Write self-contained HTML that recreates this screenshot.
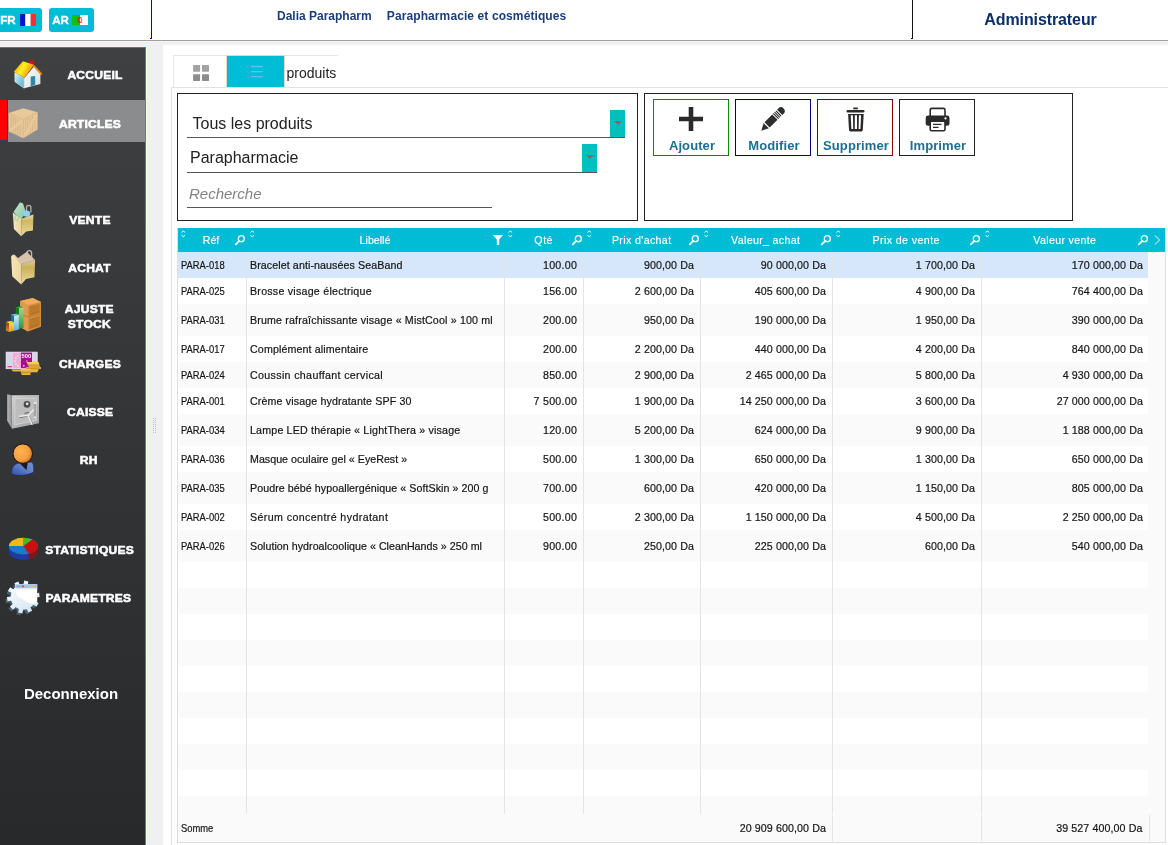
<!DOCTYPE html>
<html lang="fr">
<head>
<meta charset="utf-8">
<title>Dalia Parapharm - Articles</title>
<style>
*{box-sizing:border-box;margin:0;padding:0}
html,body{width:1168px;height:845px;overflow:hidden}
body{background:#f0f0f0;font-family:"Liberation Sans",sans-serif;position:relative;color:#222}
svg{position:absolute;display:block;overflow:visible}
#header{position:absolute;left:0;top:0;width:1168px;height:40px;background:#fff;overflow:hidden}
#hline{position:absolute;left:0;top:40px;width:1168px;height:1px;background:#a0a0a0;box-shadow:0 1px 0 #f5f5f5}
.lang{position:absolute;top:8px;height:24px;background:#00bcd4;border-radius:3px;color:#fff;font-weight:bold;font-size:12px;line-height:24px}
.lang .lt{position:absolute;top:0;font-size:11.5px;-webkit-text-stroke:.4px #fff}
.vline{position:absolute;top:0;width:1px;height:39px}
.hook{position:absolute;top:38px;width:1px;height:1px}
.htitle{position:absolute;top:8px;font-size:12px;font-weight:bold;color:#1c3f7a;line-height:16px;white-space:nowrap}
#admin{position:absolute;left:913px;top:10px;width:255px;text-align:center;font-size:16px;font-weight:bold;color:#0b2f6b;line-height:20px;letter-spacing:-.1px}
#side{position:absolute;left:0;top:47px;width:146px;height:798px;background:linear-gradient(#3f4042,#28292b);border-top:1px solid #00a0a0;border-right:1px solid #00a8a8;box-shadow:1px -1px 0 #fdf4f2}
#grip{position:absolute;left:153px;top:418px;width:3px;height:15px;background:radial-gradient(circle at .5px .5px,#bdbdbd .55px,transparent .6px) 0 0/2px 2px}
#sel{position:absolute;left:8px;top:52px;width:137px;height:42px;background:#8b8c8e}
#selred{position:absolute;left:0;top:52px;width:7px;height:40px;background:#f00}
.mi{position:absolute;width:145px;color:#fff;font-weight:bold;font-size:10.5px;letter-spacing:.2px;text-align:center;line-height:15px;-webkit-text-stroke:.5px #fff;white-space:nowrap}
.mi span{display:inline-block;transform:scaleX(1.15);text-align:center}
#deco{position:absolute;left:0;top:636px;width:142px;text-align:center;color:#fff;font-weight:bold;font-size:15px;line-height:20px}
#main{position:absolute;left:163px;top:45px;width:1005px;height:800px;background:#fff}
#panel{position:absolute;left:171px;top:87px;width:997px;height:758px;border-top:1px solid #e2e2e2;border-left:1px solid #e2e2e2}
#tabs{position:absolute;left:173px;top:55px;width:165px;height:32px;background:#fff;box-shadow:inset 1px 1px 0 #e6e6e6}
#tab1{position:absolute;left:0;top:0;width:53px;height:32px}
#tab2{position:absolute;left:53px;top:0;width:59px;height:32px;background:#00bcd4;border:1px solid #e6d4d0;border-bottom:0}
#tabt{position:absolute;left:113.5px;top:2px;width:51px;overflow:hidden;height:31px;line-height:33px;font-size:14px;color:#222;white-space:nowrap}
#fbox{position:absolute;left:177px;top:93px;width:461px;height:128px;border:1px solid #222;background:#fff}
#bbox{position:absolute;left:644px;top:93px;width:429px;height:128px;border:1px solid #222;background:#fff}
.sel{position:absolute;height:27px;border-bottom:1px solid #555;font-size:16px;color:#222;line-height:26px}
.sel span{position:absolute;top:0;white-space:nowrap}
.sel i{position:absolute;right:0;top:-1px;bottom:0;width:15px;background:#00bfbf}
.sel i:after{content:"";position:absolute;left:3.5px;top:11px;border:4px solid transparent;border-top:4.5px solid #7a6c6c;border-bottom:0}
.srch{color:#838383;font-style:italic;font-size:15px}
.btn{position:absolute;top:5px;width:76px;height:57px;border:1px solid #000;background:#fff;text-align:center}
.btn span{position:absolute;left:1px;width:74px;top:38px;letter-spacing:.1px;font-size:13px;font-weight:bold;color:#1d6f8f;line-height:16px;white-space:nowrap}
#tbl{position:absolute;left:178px;top:228px;width:987px;height:615px;background:#fafafa;box-shadow:-1px 0 0 #e0e0e0,1px 0 0 #e0e0e0}
#th{position:absolute;left:0;top:0;width:987px;height:24px;background:#00bcd4;color:#fff}
.ht{position:absolute;top:0;width:120px;text-align:center;font-size:10.67px;line-height:25px;white-space:nowrap;-webkit-text-stroke:.15px #fff}
.hi{position:absolute;top:7px;width:10px;height:10px}
.sort{position:absolute;top:1px;width:5px;height:9px}
.r{position:absolute;left:0;width:970px;background:#fff;font-size:10.67px;color:#161616;-webkit-text-stroke:.2px #161616}
.ra{background:#fafafa}
.rs{background:#d6e6fb}
.c{position:absolute;top:0;height:100%;white-space:nowrap;overflow:hidden}
.l{padding-left:3px}
.n{text-align:right;padding-right:7px;letter-spacing:.1px}
.q{letter-spacing:.3px;padding-right:6.7px}
.rf span{display:inline-block;transform:scaleX(.88);transform-origin:0 50%}
.lb{letter-spacing:.08px}
.cl{position:absolute;top:24px;width:1px;height:562px;background:#e4e4e4}
#sb{position:absolute;left:970px;top:24px;width:17px;height:591px;background:#fafafa}
#tf{position:absolute;left:-1px;top:586px;width:988px;height:29px;background:#fafafa;border-left:1px solid #ddd;border-bottom:1px solid #ddd;font-size:10.67px;line-height:29px;color:#161616;-webkit-text-stroke:.2px #161616}
.fl{position:absolute;top:1px;width:1px;height:26px;background:#e4e4e4}
</style>
</head>
<body>
<header id="header">
<div class="lang" style="left:-4px;width:46px"><span class="lt" style="left:4.2px">FR</span><svg style="left:24px;top:6px" width="16" height="12" viewBox="0 0 16 12"><rect width="5.3" height="12" fill="#0a14c8"/><rect x="5.3" width="5.4" height="12" fill="#fff"/><rect x="10.7" width="5.3" height="12" fill="#ff2d2d"/></svg></div>
<div class="lang" style="left:49px;width:45px"><span class="lt" style="left:3.2px">AR</span><svg style="left:23px;top:7px" width="16" height="10" viewBox="0 0 16 10"><rect width="8" height="10" fill="#12c012"/><rect x="8" width="8" height="10" fill="#fff"/><circle cx="8.2" cy="5" r="2.3" fill="none" stroke="#e01020" stroke-width="1.1"/><rect x="9.4" y="3" width="2" height="4" fill="#fff"/><circle cx="9.6" cy="5" r=".8" fill="#e01020"/></svg></div>
<div class="vline" style="left:151px;background:#0808c0"></div><div class="hook" style="left:150px;background:#0808c0"></div>
<div class="htitle" style="left:277px">Dalia Parapharm</div>
<div class="htitle" style="left:386.8px;letter-spacing:.1px">Parapharmacie et cosmétiques</div>
<div class="vline" style="left:912px;background:#111"></div><div class="hook" style="left:911px;background:#111"></div>
<div id="admin">Administrateur</div>
</header>
<div id="hline"></div>
<nav id="side">
<div id="sel"></div><div id="selred"></div>
<div class="mi" style="top:19.5px;left:22.6px"><span>ACCUEIL</span></div>
<svg style="left:12px;top:11px" width="32" height="32" viewBox="12 59 32 32">
<defs><linearGradient id="gh1" gradientUnits="userSpaceOnUse" x1="16" y1="65" x2="30" y2="73"><stop offset="0" stop-color="#ffa60c"/><stop offset=".45" stop-color="#fff21c"/><stop offset="1" stop-color="#ff920c"/></linearGradient>
<linearGradient id="gh2" x1="0" y1="0" x2="1" y2="1"><stop offset="0" stop-color="#d8f0f6"/><stop offset="1" stop-color="#48aacc"/></linearGradient>
<linearGradient id="gh3" x1="0" y1="0" x2="1" y2="1"><stop offset="0" stop-color="#ffffff"/><stop offset="1" stop-color="#d4dde0"/></linearGradient></defs>
<rect x="29.2" y="60.5" width="4.9" height="4.5" rx="1" fill="#de0a0a"/>
<polygon points="14.9,72.6 24.2,78.2 24.2,88.2 14.9,81.7" fill="url(#gh2)" stroke="#e8f8fc" stroke-width=".6"/>
<polygon points="24.2,78.2 33.9,66.6 40.4,74 40.4,84 24.2,88.2" fill="url(#gh3)"/>
<polygon points="30.7,76.4 35.2,76 35.2,85 30.7,86.2" fill="#2a88aa"/>
<polygon points="22.9,61.3 33.9,64.7 24.5,77.7 13.8,71.7" fill="url(#gh1)"/>
<polygon points="33.9,64.7 42.3,73.8 41,75.2 33.2,66.8" fill="#f4900e"/>
</svg>
<div class="mi" style="top:68.8px;left:18px"><span>ARTICLES</span></div>
<svg style="left:8px;top:59px" width="31" height="32" viewBox="8 107 31 32">
<polygon points="23.2,108.2 37.6,112.2 23.2,119.6 8.7,113.1" fill="#e9c99a"/>
<polygon points="8.7,113.1 23.2,119.6 23.2,138.2 8.9,131.6" fill="#e6c696"/>
<polygon points="23.2,119.6 37.6,112.2 37.6,129.5 23.2,138.2" fill="#e7c797"/>
<path d="M11.2 115.5v16M13.4 116.5v16.5M15.6 117.5v16.5M17.8 118.5v16.8M20 119.5v16.8M25.6 119.2v16.8M27.9 118v16.5M30.2 117v16M32.5 115.8v15.5M34.8 114.6v15" stroke="#d7b686" stroke-width=".9" fill="none"/>
<path d="M10.2 130.5 L21.8 120.8 M25.2 135.6 L36 114.6" stroke="#e9c99a" stroke-width="2.3" fill="none"/>
<path d="M8.7 113.1 L23.2 119.6 L37.6 112.2 M23.2 119.6 V138" stroke="#dcbc8c" stroke-width=".8" fill="none"/>
</svg>
<div class="mi" style="top:164.5px;left:17.5px"><span>VENTE</span></div>
<svg style="left:11px;top:153px" width="25" height="37" viewBox="11 201 25 37">
<defs><linearGradient id="gb1" x1="0" y1="0" x2="1" y2="0"><stop offset="0" stop-color="#f6e6b8"/><stop offset="1" stop-color="#e8d49c"/></linearGradient>
<linearGradient id="gb2" x1="0" y1="0" x2="0" y2="1"><stop offset="0" stop-color="#eadcae"/><stop offset=".3" stop-color="#d0b662"/><stop offset="1" stop-color="#eedc98"/></linearGradient>
<linearGradient id="gb3" x1="0" y1="0" x2="1" y2="1"><stop offset="0" stop-color="#c8e8d0"/><stop offset="1" stop-color="#80c8a0"/></linearGradient></defs>
<path d="M26.5 211 v-3.5 a2.2 2.2 0 0 1 4.4 0 v5" stroke="#b8b0a8" stroke-width="1.3" fill="none"/>
<polygon points="13.5,212 20,202.3 23,203.6 26,212.5 21,219.5" fill="url(#gb3)"/>
<ellipse cx="26.6" cy="213.6" rx="3.6" ry="3.2" fill="#8cd0f2"/>
<polygon points="12.8,212.6 21.2,218.8 21.2,236.2 13.9,229" fill="url(#gb1)"/>
<polygon points="21.2,218.8 33.4,214.6 32.9,230.4 26.2,231.6 21.2,236.2" fill="url(#gb2)"/>
<path d="M15 214.5 v3 a1.6 1.6 0 0 0 3.2 1.8 v-2.6" stroke="#9ccfae" stroke-width="1.1" fill="none"/>
</svg>
<div class="mi" style="top:212.5px;left:17px"><span>ACHAT</span></div>
<svg style="left:10px;top:201px" width="27" height="37" viewBox="10 249 27 37">
<defs><linearGradient id="gc1" x1="0" y1="0" x2="1" y2="0"><stop offset="0" stop-color="#f8e6b4"/><stop offset="1" stop-color="#ead6a0"/></linearGradient>
<linearGradient id="gc2" x1="0" y1="0" x2="0" y2="1"><stop offset="0" stop-color="#dccca4"/><stop offset=".3" stop-color="#cbb05c"/><stop offset="1" stop-color="#eedc98"/></linearGradient></defs>
<path d="M27 257 v-4 a2.3 2.3 0 0 1 4.6 0 v5" stroke="#bcb8b0" stroke-width="1.3" fill="none"/>
<polygon points="12.2,255.2 14.5,254.4 18,258 26.8,251.8 35.1,260 21.2,264.2" fill="#d8c2aa"/>
<polygon points="11.1,256.6 13,254.6 21.2,264 21.2,284.6 12.2,276.2" fill="url(#gc1)"/>
<polygon points="21.2,264 35.1,260 34.5,277.3 26,279 21.2,284.6" fill="url(#gc2)"/>
</svg>
<div class="mi" style="top:253.5px;left:17px"><span>AJUSTE<br>STOCK</span></div>
<svg style="left:5px;top:249px" width="37" height="36" viewBox="5 297 37 36">
<defs><linearGradient id="gs1" x1="0" y1="0" x2="0" y2="1"><stop offset="0" stop-color="#a6d8a0"/><stop offset="1" stop-color="#2f962f"/></linearGradient>
<linearGradient id="gs2" x1="0" y1="0" x2="0" y2="1"><stop offset="0" stop-color="#d4eef4"/><stop offset="1" stop-color="#5cb4d8"/></linearGradient>
<linearGradient id="gs3" x1="0" y1="0" x2="0" y2="1"><stop offset="0" stop-color="#f2e24a"/><stop offset="1" stop-color="#e0a020"/></linearGradient>
<linearGradient id="gs4" x1="0" y1="0" x2="0" y2="1"><stop offset="0" stop-color="#8a3c10"/><stop offset="1" stop-color="#e88a20"/></linearGradient></defs>
<polygon points="20.2,301 32.7,297.9 41,302 41,326.8 28,331.6 22,327.9 20.2,314" fill="#d48c3c"/>
<polygon points="20.2,301 32.7,297.9 41,302 28,305.2" fill="#eeac5c"/>
<polygon points="20.2,301 28,305.2 28,331.6 22,327.9 20.2,314" fill="#e29a4a"/>
<polygon points="29.5,306.8 39.6,304 39.6,312.8 29.5,315.8" fill="#b47428"/>
<polygon points="29.5,319.2 39.6,316.2 39.6,325.4 29.5,329.2" fill="#b47428"/>
<path d="M20.2 314 L28 317 L41 313.8" stroke="#c07c30" stroke-width=".9" fill="none"/>
<path d="M29.5 308.8 l10.1 -2.8 M29.5 310.8 l10.1 -2.8M29.5 312.8 l10.1 -2.8M29.5 321.4 l10.1 -3M29.5 323.4 l10.1 -3M29.5 325.4 l10.1 -3" stroke="#cc8c3c" stroke-width=".5" fill="none"/>
<polygon points="15.8,307.2 19,308 19,329 15.8,327.6" fill="#17781a"/>
<polygon points="19,308 23.6,307.2 23.6,327.8 19,329" fill="url(#gs1)"/>
<polygon points="15.8,307.2 20.2,306.2 23.6,307.2 19,308.2" fill="#22b422"/>
<polygon points="10.9,314.8 14,315.8 14,330.8 10.9,329.2" fill="#1c6c94"/>
<polygon points="14,315.8 18.9,314.8 18.9,329.6 14,330.8" fill="url(#gs2)"/>
<polygon points="10.9,314.8 15.4,313.8 18.9,314.8 14,315.9" fill="#6ccaf0"/>
<polygon points="5.9,322 9,323.2 9,332 5.9,330.4" fill="url(#gs4)"/>
<polygon points="9,323.2 14,322 14,330.8 9,332" fill="url(#gs3)"/>
<polygon points="5.9,322 10.6,321 14,322 9,323.3" fill="#f4e624"/>
</svg>
<div class="mi" style="top:308.5px;left:17px"><span>CHARGES</span></div>
<svg style="left:5px;top:303px" width="37" height="25" viewBox="5 351 37 25">
<defs><linearGradient id="gm1" x1="0" y1="0" x2="0" y2="1"><stop offset="0" stop-color="#f6d478"/><stop offset=".5" stop-color="#dca030"/><stop offset="1" stop-color="#eebc50"/></linearGradient></defs>
<rect x="6.1" y="352.1" width="31.1" height="16.6" fill="#ded4ea"/>
<rect x="13" y="352.1" width="8" height="16.6" fill="#f1acd5"/>
<rect x="21" y="352.1" width="11" height="16.6" fill="#a2108a"/>
<rect x="6.1" y="352.1" width="31.1" height="16.6" fill="none" stroke="#f4eef8" stroke-width=".7"/>
<text x="21.6" y="358.2" font-family="Liberation Sans, sans-serif" font-weight="bold" font-size="6.2" fill="#fff" textLength="9.6" lengthAdjust="spacingAndGlyphs">500</text>
<g fill="#fbe6f2"><rect x="17.2" y="355.4" width="1.4" height="1.4"/><rect x="15.2" y="357.4" width="1.4" height="1.4"/><rect x="14.3" y="360.4" width="1.4" height="1.4"/><rect x="15.2" y="363.3" width="1.4" height="1.4"/><rect x="17.2" y="365.3" width="1.4" height="1.4"/><rect x="26.2" y="360.4" width="1.4" height="1.4" fill="#e8b4dc"/><rect x="23" y="365" width="1.6" height="1.6" fill="#e8b4dc"/></g>
<rect x="7.5" y="366" width="4.5" height="1.3" fill="#c850a8"/>
<path d="M33.5 361.3h2" stroke="#e8a8d8" stroke-width="1"/>
<path d="M26.6 362 h12 l1.4 5 h1 v2 h-2.2 l-1.4 3.3 h-10 l1.4 -3.6 h-4 l1.6 -1.6 h2.6z" fill="url(#gm1)"/>
<path d="M11.2 369.5 h10.5 l.5 1.9 h-9.2z M20.8 368.8 h9.5 l.8 2.6 l-.8 3.6 h-8.6 l-.8 -2.8z" fill="url(#gm1)"/>
<path d="M27.5 365.2h11.5M26.5 368.6h13M21.5 372.6h9" stroke="#c48820" stroke-width=".7" fill="none"/>
</svg>
<div class="mi" style="top:356.5px;left:17.5px"><span>CAISSE</span></div>
<svg style="left:6px;top:345px" width="35" height="37" viewBox="6 393 35 37">
<defs><linearGradient id="gf1" x1="0" y1="0" x2="1" y2="1"><stop offset="0" stop-color="#d0d0d0"/><stop offset="1" stop-color="#9c9c9c"/></linearGradient>
<linearGradient id="gf2" x1="0" y1="0" x2="1" y2="0"><stop offset="0" stop-color="#b8b8b8"/><stop offset="1" stop-color="#8e8e8e"/></linearGradient></defs>
<polygon points="7.2,394.2 11.9,395.2 11.9,428.8 7.2,420.7" fill="url(#gf2)"/>
<polygon points="11.9,395.2 39,395 39,423.3 11.9,428.8" fill="url(#gf1)"/>
<polygon points="14.8,398.6 36.2,398.2 36.2,420.6 14.8,424.6" fill="#bdbdbd" stroke="#d8d8d8" stroke-width=".8"/>
<path d="M35 402.5 v16.5" stroke="#8a8a8a" stroke-width="1"/>
<rect x="34" y="402" width="2.2" height="2" fill="#e4e4e4"/><rect x="34" y="416.5" width="2.2" height="2" fill="#e4e4e4"/>
<circle cx="27" cy="404.4" r="3.3" fill="#4a4a4a"/><circle cx="27.2" cy="403.8" r="1.4" fill="#e8e8e8"/>
<path d="M24.5 413.8 a3 2.2 0 0 1 5 -.5" stroke="#777" stroke-width="1.3" fill="none"/>
<path d="M19.8 417.2 L28 416.3 M28.8 416.5 L32.8 425" stroke="#4c4c4c" stroke-width="1.1" fill="none"/>
<path d="M19.5 416.3 L28 415.5 L33.5 409.7 M28 415.5 L32 424.3" stroke="#ececec" stroke-width="1.5" fill="none" stroke-linecap="round"/>
</svg>
<div class="mi" style="top:404.5px;left:16.5px"><span>RH</span></div>
<svg style="left:10px;top:395px" width="26" height="34" viewBox="10 443 26 34">
<defs><radialGradient id="gu1" cx=".38" cy=".4" r=".72"><stop offset="0" stop-color="#ffb24e"/><stop offset=".6" stop-color="#f6a040"/><stop offset="1" stop-color="#c45e14"/></radialGradient>
<linearGradient id="gu2" x1="0" y1="1" x2="1" y2="0"><stop offset="0" stop-color="#2c4cac"/><stop offset=".5" stop-color="#5c7cc8"/><stop offset="1" stop-color="#7894d4"/></linearGradient></defs>
<path d="M11.4 473.8 C11.2 468 13.6 464.4 18 463.3 L31.2 462.1 C33.4 462.8 33.9 466 33.8 472 C28 475.8 15 476.4 11.4 473.8Z" fill="url(#gu2)" stroke="#14204a" stroke-width=".6"/>
<polygon points="19.7,463.3 27.8,462.8 26.5,470.3" fill="#1c1c20"/>
<circle cx="22.8" cy="453.6" r="9.7" fill="url(#gu1)" stroke="#16100a" stroke-width=".9"/>
</svg>
<div class="mi" style="top:494.5px;left:17px"><span>STATISTIQUES</span></div>
<svg style="left:8px;top:489px" width="31" height="25" viewBox="8 537 31 25">
<path d="M8.9 546.1 v5.5 a14.5 8.4 0 0 0 29 0 v-5.5z" fill="#1c3ca8"/>
<path d="M28.5 554 L29 559.2 A14.5 8.4 0 0 0 37.9 551.6 v-5.5z" fill="#8e1010"/>
<ellipse cx="23.4" cy="546.1" rx="14.5" ry="8.4" fill="#2078c8"/>
<path d="M23.4 546.1 L8.9 546.1 A14.5 8.4 0 0 1 23.4 537.7z" fill="#f8b808"/>
<path d="M23.4 546.1 L23.4 537.7 A14.5 8.4 0 0 1 32.5 539.6z" fill="#48b828"/>
<path d="M23.4 546.1 L32.5 539.6 A14.5 8.4 0 0 1 29 553.9z" fill="#c81010"/>
</svg>
<div class="mi" style="top:542.5px;left:16px"><span>PARAMETRES</span></div>
<svg style="left:4px;top:532px" width="38" height="36" viewBox="4 580 38 36">
<defs><linearGradient id="gg1" gradientUnits="userSpaceOnUse" x1="8" y1="584" x2="36" y2="612"><stop offset="0" stop-color="#f6fbff"/><stop offset="1" stop-color="#d4e4f2"/></linearGradient>
<linearGradient id="gg2" x1="0" y1="1" x2=".6" y2="0"><stop offset="0" stop-color="#b4b8bc"/><stop offset=".35" stop-color="#ffffff"/><stop offset="1" stop-color="#ffffff"/></linearGradient></defs>
<path d="M32.9 603.1 L36.3 605 L34.3 608.7 L31 606.8 L28.4 609.2 L30.1 612.6 L26.3 614.4 L24.7 611 L21.2 611.4 L20.5 615.2 L16.4 614.4 L17.1 610.6 L14.1 609 L11.3 611.6 L8.4 608.6 L11.2 605.9 L9.7 602.8 L5.9 603.3 L5.4 599.1 L9.2 598.7 L9.9 595.3 L6.5 593.4 L8.5 589.7 L11.8 591.6 L14.4 589.2 L12.7 585.8 L16.5 584 L18.1 587.4 L21.6 587 L22.3 583.2 L26.4 584 L25.7 587.8 L28.7 589.4 L31.5 586.8 L34.4 589.8 L31.6 592.5 L33.1 595.6 L36.9 595.1 L37.4 599.3 L33.6 599.7Z" fill="#4a5e72"/>
<path d="M34.8 600.9 L38.6 602.9 L36.5 606.7 L32.9 604.6 L30.3 607 L32.2 610.8 L28.3 612.6 L26.6 608.8 L23.1 609.2 L22.4 613.4 L18.2 612.6 L19 608.4 L16 606.8 L13 609.7 L10 606.6 L13.1 603.7 L11.6 600.6 L7.5 601.2 L6.9 596.9 L11.1 596.5 L11.8 593.1 L8 591.1 L10.1 587.3 L13.7 589.4 L16.3 587 L14.4 583.2 L18.3 581.4 L20 585.2 L23.5 584.8 L24.2 580.6 L28.4 581.4 L27.6 585.6 L30.6 587.2 L33.6 584.3 L36.6 587.4 L33.5 590.3 L35 593.4 L39.1 592.8 L39.7 597.1 L35.5 597.5Z" fill="url(#gg1)"/>
<circle cx="23.3" cy="597" r="12.6" fill="url(#gg1)"/>
<path d="M15.4 584.3 h21.8 v19.3 h-8.5 C21 603.6 16.2 597.5 15.4 589z" fill="url(#gg2)"/>
<rect x="15.4" y="584.3" width="21.8" height="3.9" fill="#a9c4e4"/>
<rect x="15.4" y="588.2" width="21.8" height="1.2" fill="#dfe6f0"/>
<rect x="16.2" y="585.4" width="4" height="1.8" fill="#7fb2dc"/><rect x="21.8" y="585.4" width="2" height="1.8" fill="#e83838"/><rect x="25" y="585.4" width="2" height="1.8" fill="#8cd488"/><rect x="31" y="585.4" width="2.2" height="1.8" fill="#e8c440"/><rect x="34" y="585.4" width="1.6" height="1.8" fill="#9cc8a0"/>
</svg>
<div id="deco">Deconnexion</div>
</nav>
<div id="grip"></div>
<div id="main"></div>
<div id="panel"></div>
<div id="tabs"><div id="tab1"><svg style="left:20px;top:10.3px" width="17" height="16" viewBox="0 0 17 16"><defs><linearGradient id="gr1" x1="0" y1="0" x2="0" y2="1"><stop offset="0" stop-color="#777"/><stop offset="1" stop-color="#9a9a9a"/></linearGradient></defs><rect x=".1" y=".1" width="7" height="6.7" rx=".6" fill="#a2a2a2"/><rect x="9" y=".1" width="7" height="6.7" rx=".6" fill="#a2a2a2"/><rect x=".1" y="9.2" width="7" height="6.7" rx=".6" fill="#8c8c8c"/><rect x="9" y="9.2" width="7" height="6.7" rx=".6" fill="#8c8c8c"/></svg></div><div id="tab2"><svg style="left:20px;top:9px" width="18" height="14" viewBox="0 0 18 14"><path d="M3.9 1.5h11.9M3.9 6.6h11.9M3.9 11.6h11.9" stroke="#4cc6ff" stroke-width="1.4" fill="none"/><g fill="#58707c" stroke="#4cc6ff" stroke-width=".7"><circle cx="1.4" cy="1.5" r=".9"/><circle cx="1.4" cy="6.6" r=".9"/><circle cx="1.4" cy="11.6" r=".9"/></g></svg></div><div id="tabt">produits</div></div>
<div id="fbox">
<div class="sel" style="left:9px;top:17px;width:438px;height:27px"><span style="left:5.5px">Tous les produits</span><i></i></div>
<div class="sel" style="left:9px;top:51px;width:410px;height:28px"><span style="left:3px">Parapharmacie</span><i></i></div>
<div class="sel srch" style="left:9px;top:87px;width:305px;height:27px"><span style="left:2px">Recherche</span></div>
</div>
<div id="bbox">
<div class="btn" style="left:8px;border-color:#0a8a0a"><svg style="left:25px;top:7px" width="24" height="24" viewBox="0 0 24 24"><path d="M12 0v24M0 12h24" stroke="#2a2a2a" stroke-width="4.6" fill="none"/></svg><span>Ajouter</span></div>
<div class="btn" style="left:90px;border-color:#000080"><svg style="left:25px;top:7px" width="24" height="24" viewBox="0 0 24 24"><g transform="translate(0.3 23.7) rotate(-45)" fill="#2e2e2e"><polygon points="0,0 7,-3.7 7,3.7"/><rect x="8.2" y="-3.7" width="11" height="7.4"/><rect x="20.1" y="-3.7" width="1.1" height="7.4"/><rect x="22" y="-3.7" width="1.1" height="7.4"/><rect x="23.9" y="-3.7" width="1.1" height="7.4"/><path d="M26 -3.7 h1.8 a3.7 3.7 0 0 1 0 7.4 h-1.8z"/></g></svg><span>Modifier</span></div>
<div class="btn" style="left:172px;border-color:#8b0000"><svg style="left:27.5px;top:6.6px" width="19" height="25" viewBox="845.5 106.5 19 25"><g fill="#2a2a2a"><rect x="852.7" y="107" width="4.7" height="1.8" rx=".6"/><rect x="846" y="109.6" width="18" height="2.3" rx="1"/><path d="M847.6 113.4 h15.6 l-.9 16.2 a1.4 1.4 0 0 1 -1.4 1.3 h-11 a1.4 1.4 0 0 1 -1.4 -1.3z"/></g><path d="M850.2 114.8 h2.2 l.3 13.8 h-1.8z M854.3 114.8 h2.2 v13.8 h-2.2z M858.4 114.8 h2.2 l-.7 13.8 h-1.8z" fill="#fff"/></svg><span>Supprimer</span></div>
<div class="btn" style="left:254px;border-color:#222"><svg style="left:24.5px;top:6.6px" width="25" height="25" viewBox="924.5 106.5 25 25"><rect x="929.7" y="107.9" width="14.8" height="9" rx="1.6" fill="#fff" stroke="#2a2a2a" stroke-width="1.6"/><rect x="925.2" y="115" width="23.8" height="10.3" rx="2.4" fill="#2a2a2a"/><circle cx="945" cy="117.9" r="1.1" fill="#fff"/><rect x="929.7" y="120.6" width="14.8" height="9.6" rx="1.4" fill="#fff" stroke="#2a2a2a" stroke-width="1.6"/><path d="M932.5 123.9h8.5M932.5 126.8h5.5" stroke="#2a2a2a" stroke-width="1.3" fill="none"/></svg><span>Imprimer</span></div>
</div>
<div id="tbl">
<div id="th">
<div class="sort" style="left:2px"><svg width="5" height="8" viewBox="0 0 5 8" style="left:1px;top:1px"><path d="M.5 2.4 Q2.3 -.3 4.1 2.4 M.5 5.3 Q2.3 8 4.1 5.3" stroke="#fff" stroke-width="1" fill="none"/></svg></div>
<div class="ht" style="left:-27px">Réf</div>
<div class="hi" style="left:57px"><svg width="10" height="10" viewBox="0 0 10 10" style="left:0;top:0"><circle cx="6.3" cy="3.7" r="3" fill="none" stroke="#fff" stroke-width="1.3"/><path d="M4.2 5.9 L.8 9.3" stroke="#fff" stroke-width="1.7" stroke-linecap="round"/></svg></div>
<div class="sort" style="left:71px"><svg width="5" height="8" viewBox="0 0 5 8" style="left:1px;top:1px"><path d="M.5 2.4 Q2.3 -.3 4.1 2.4 M.5 5.3 Q2.3 8 4.1 5.3" stroke="#fff" stroke-width="1" fill="none"/></svg></div>
<div class="ht" style="left:137px">Libellé</div>
<div class="hi" style="left:315px"><svg width="10" height="10" viewBox="0 0 10 10" style="left:0;top:0"><path d="M0 0 h10 l-3.8 4.6 v5.4 h-2.4 v-5.4z" fill="#fff"/></svg></div>
<div class="sort" style="left:329px"><svg width="5" height="8" viewBox="0 0 5 8" style="left:1px;top:1px"><path d="M.5 2.4 Q2.3 -.3 4.1 2.4 M.5 5.3 Q2.3 8 4.1 5.3" stroke="#fff" stroke-width="1" fill="none"/></svg></div>
<div class="ht" style="left:305.7px;letter-spacing:0.5px">Qté</div>
<div class="hi" style="left:394px"><svg width="10" height="10" viewBox="0 0 10 10" style="left:0;top:0"><circle cx="6.3" cy="3.7" r="3" fill="none" stroke="#fff" stroke-width="1.3"/><path d="M4.2 5.9 L.8 9.3" stroke="#fff" stroke-width="1.7" stroke-linecap="round"/></svg></div>
<div class="sort" style="left:408px"><svg width="5" height="8" viewBox="0 0 5 8" style="left:1px;top:1px"><path d="M.5 2.4 Q2.3 -.3 4.1 2.4 M.5 5.3 Q2.3 8 4.1 5.3" stroke="#fff" stroke-width="1" fill="none"/></svg></div>
<div class="ht" style="left:403.7px;letter-spacing:0.35px">Prix d'achat</div>
<div class="hi" style="left:511px"><svg width="10" height="10" viewBox="0 0 10 10" style="left:0;top:0"><circle cx="6.3" cy="3.7" r="3" fill="none" stroke="#fff" stroke-width="1.3"/><path d="M4.2 5.9 L.8 9.3" stroke="#fff" stroke-width="1.7" stroke-linecap="round"/></svg></div>
<div class="sort" style="left:525px"><svg width="5" height="8" viewBox="0 0 5 8" style="left:1px;top:1px"><path d="M.5 2.4 Q2.3 -.3 4.1 2.4 M.5 5.3 Q2.3 8 4.1 5.3" stroke="#fff" stroke-width="1" fill="none"/></svg></div>
<div class="ht" style="left:527.7px;letter-spacing:0.33px">Valeur_ achat</div>
<div class="hi" style="left:643px"><svg width="10" height="10" viewBox="0 0 10 10" style="left:0;top:0"><circle cx="6.3" cy="3.7" r="3" fill="none" stroke="#fff" stroke-width="1.3"/><path d="M4.2 5.9 L.8 9.3" stroke="#fff" stroke-width="1.7" stroke-linecap="round"/></svg></div>
<div class="sort" style="left:657px"><svg width="5" height="8" viewBox="0 0 5 8" style="left:1px;top:1px"><path d="M.5 2.4 Q2.3 -.3 4.1 2.4 M.5 5.3 Q2.3 8 4.1 5.3" stroke="#fff" stroke-width="1" fill="none"/></svg></div>
<div class="ht" style="left:668.2px;letter-spacing:0.4px">Prix de vente</div>
<div class="hi" style="left:792px"><svg width="10" height="10" viewBox="0 0 10 10" style="left:0;top:0"><circle cx="6.3" cy="3.7" r="3" fill="none" stroke="#fff" stroke-width="1.3"/><path d="M4.2 5.9 L.8 9.3" stroke="#fff" stroke-width="1.7" stroke-linecap="round"/></svg></div>
<div class="sort" style="left:806px"><svg width="5" height="8" viewBox="0 0 5 8" style="left:1px;top:1px"><path d="M.5 2.4 Q2.3 -.3 4.1 2.4 M.5 5.3 Q2.3 8 4.1 5.3" stroke="#fff" stroke-width="1" fill="none"/></svg></div>
<div class="ht" style="left:826.8px;letter-spacing:0.33px">Valeur vente</div>
<div class="hi" style="left:960px"><svg width="10" height="10" viewBox="0 0 10 10" style="left:0;top:0"><circle cx="6.3" cy="3.7" r="3" fill="none" stroke="#fff" stroke-width="1.3"/><path d="M4.2 5.9 L.8 9.3" stroke="#fff" stroke-width="1.7" stroke-linecap="round"/></svg></div>
<div class="hi" style="left:975.5px"><svg width="7" height="10" viewBox="0 0 7 10" style="left:0;top:0"><path d="M.8 .5 L5.6 5 L.8 9.5" stroke="#fff" stroke-width=".9" fill="none"/></svg></div>
</div>
<div class="r rs" style="top:24px;height:26px;line-height:26px">
<div class="c l rf" style="left:0px;width:69px"><span>PARA-018</span></div>
<div class="c l lb" style="left:69px;width:258px;letter-spacing:0.09px">Bracelet anti-nausées SeaBand</div>
<div class="c n q" style="left:327px;width:79px">100.00</div>
<div class="c n" style="left:406px;width:117px">900,00 Da</div>
<div class="c n" style="left:523px;width:132px">90 000,00 Da</div>
<div class="c n" style="left:655px;width:149px">1 700,00 Da</div>
<div class="c n" style="left:804px;width:166px;padding-right:5px">170 000,00 Da</div>
</div>
<div class="r" style="top:50px;height:26px;line-height:26px">
<div class="c l rf" style="left:0px;width:69px"><span>PARA-025</span></div>
<div class="c l lb" style="left:69px;width:258px;letter-spacing:0.239px">Brosse visage électrique</div>
<div class="c n q" style="left:327px;width:79px">156.00</div>
<div class="c n" style="left:406px;width:117px">2 600,00 Da</div>
<div class="c n" style="left:523px;width:132px">405 600,00 Da</div>
<div class="c n" style="left:655px;width:149px">4 900,00 Da</div>
<div class="c n" style="left:804px;width:166px;padding-right:5px">764 400,00 Da</div>
</div>
<div class="r ra" style="top:76px;height:32px;line-height:32px">
<div class="c l rf" style="left:0px;width:69px"><span>PARA-031</span></div>
<div class="c l lb" style="left:69px;width:258px;letter-spacing:0.161px">Brume rafraîchissante visage « MistCool » 100 ml</div>
<div class="c n q" style="left:327px;width:79px">200.00</div>
<div class="c n" style="left:406px;width:117px">950,00 Da</div>
<div class="c n" style="left:523px;width:132px">190 000,00 Da</div>
<div class="c n" style="left:655px;width:149px">1 950,00 Da</div>
<div class="c n" style="left:804px;width:166px;padding-right:5px">390 000,00 Da</div>
</div>
<div class="r" style="top:108px;height:26px;line-height:26px">
<div class="c l rf" style="left:0px;width:69px"><span>PARA-017</span></div>
<div class="c l lb" style="left:69px;width:258px;letter-spacing:0.129px">Complément alimentaire</div>
<div class="c n q" style="left:327px;width:79px">200.00</div>
<div class="c n" style="left:406px;width:117px">2 200,00 Da</div>
<div class="c n" style="left:523px;width:132px">440 000,00 Da</div>
<div class="c n" style="left:655px;width:149px">4 200,00 Da</div>
<div class="c n" style="left:804px;width:166px;padding-right:5px">840 000,00 Da</div>
</div>
<div class="r ra" style="top:134px;height:26px;line-height:26px">
<div class="c l rf" style="left:0px;width:69px"><span>PARA-024</span></div>
<div class="c l lb" style="left:69px;width:258px;letter-spacing:0.34px">Coussin chauffant cervical</div>
<div class="c n q" style="left:327px;width:79px">850.00</div>
<div class="c n" style="left:406px;width:117px">2 900,00 Da</div>
<div class="c n" style="left:523px;width:132px">2 465 000,00 Da</div>
<div class="c n" style="left:655px;width:149px">5 800,00 Da</div>
<div class="c n" style="left:804px;width:166px;padding-right:5px">4 930 000,00 Da</div>
</div>
<div class="r" style="top:160px;height:26px;line-height:26px">
<div class="c l rf" style="left:0px;width:69px"><span>PARA-001</span></div>
<div class="c l lb" style="left:69px;width:258px;letter-spacing:0.132px">Crème visage hydratante SPF 30</div>
<div class="c n q" style="left:327px;width:79px">7 500.00</div>
<div class="c n" style="left:406px;width:117px">1 900,00 Da</div>
<div class="c n" style="left:523px;width:132px">14 250 000,00 Da</div>
<div class="c n" style="left:655px;width:149px">3 600,00 Da</div>
<div class="c n" style="left:804px;width:166px;padding-right:5px">27 000 000,00 Da</div>
</div>
<div class="r ra" style="top:186px;height:32px;line-height:32px">
<div class="c l rf" style="left:0px;width:69px"><span>PARA-034</span></div>
<div class="c l lb" style="left:69px;width:258px;letter-spacing:0.18px">Lampe LED thérapie « LightThera » visage</div>
<div class="c n q" style="left:327px;width:79px">120.00</div>
<div class="c n" style="left:406px;width:117px">5 200,00 Da</div>
<div class="c n" style="left:523px;width:132px">624 000,00 Da</div>
<div class="c n" style="left:655px;width:149px">9 900,00 Da</div>
<div class="c n" style="left:804px;width:166px;padding-right:5px">1 188 000,00 Da</div>
</div>
<div class="r" style="top:218px;height:26px;line-height:26px">
<div class="c l rf" style="left:0px;width:69px"><span>PARA-036</span></div>
<div class="c l lb" style="left:69px;width:258px;letter-spacing:0.024px">Masque oculaire gel « EyeRest »</div>
<div class="c n q" style="left:327px;width:79px">500.00</div>
<div class="c n" style="left:406px;width:117px">1 300,00 Da</div>
<div class="c n" style="left:523px;width:132px">650 000,00 Da</div>
<div class="c n" style="left:655px;width:149px">1 300,00 Da</div>
<div class="c n" style="left:804px;width:166px;padding-right:5px">650 000,00 Da</div>
</div>
<div class="r ra" style="top:244px;height:32px;line-height:32px">
<div class="c l rf" style="left:0px;width:69px"><span>PARA-035</span></div>
<div class="c l lb" style="left:69px;width:258px;letter-spacing:0.071px">Poudre bébé hypoallergénique « SoftSkin » 200 g</div>
<div class="c n q" style="left:327px;width:79px">700.00</div>
<div class="c n" style="left:406px;width:117px">600,00 Da</div>
<div class="c n" style="left:523px;width:132px">420 000,00 Da</div>
<div class="c n" style="left:655px;width:149px">1 150,00 Da</div>
<div class="c n" style="left:804px;width:166px;padding-right:5px">805 000,00 Da</div>
</div>
<div class="r" style="top:276px;height:26px;line-height:26px">
<div class="c l rf" style="left:0px;width:69px"><span>PARA-002</span></div>
<div class="c l lb" style="left:69px;width:258px;letter-spacing:0.39px">Sérum concentré hydratant</div>
<div class="c n q" style="left:327px;width:79px">500.00</div>
<div class="c n" style="left:406px;width:117px">2 300,00 Da</div>
<div class="c n" style="left:523px;width:132px">1 150 000,00 Da</div>
<div class="c n" style="left:655px;width:149px">4 500,00 Da</div>
<div class="c n" style="left:804px;width:166px;padding-right:5px">2 250 000,00 Da</div>
</div>
<div class="r ra" style="top:302px;height:32px;line-height:32px">
<div class="c l rf" style="left:0px;width:69px"><span>PARA-026</span></div>
<div class="c l lb" style="left:69px;width:258px;letter-spacing:0.034px">Solution hydroalcoolique « CleanHands » 250 ml</div>
<div class="c n q" style="left:327px;width:79px">900.00</div>
<div class="c n" style="left:406px;width:117px">250,00 Da</div>
<div class="c n" style="left:523px;width:132px">225 000,00 Da</div>
<div class="c n" style="left:655px;width:149px">600,00 Da</div>
<div class="c n" style="left:804px;width:166px;padding-right:5px">540 000,00 Da</div>
</div>
<div class="r" style="top:334px;height:26px;line-height:26px">
</div>
<div class="r ra" style="top:360px;height:26px;line-height:26px">
</div>
<div class="r" style="top:386px;height:26px;line-height:26px">
</div>
<div class="r ra" style="top:412px;height:26px;line-height:26px">
</div>
<div class="r" style="top:438px;height:26px;line-height:26px">
</div>
<div class="r ra" style="top:464px;height:26px;line-height:26px">
</div>
<div class="r" style="top:490px;height:26px;line-height:26px">
</div>
<div class="r ra" style="top:516px;height:26px;line-height:26px">
</div>
<div class="r" style="top:542px;height:26px;line-height:26px">
</div>
<div class="r ra" style="top:568px;height:26px;line-height:26px">
</div>
<div class="cl" style="left:68px"></div>
<div class="cl" style="left:326px"></div>
<div class="cl" style="left:405px"></div>
<div class="cl" style="left:522px"></div>
<div class="cl" style="left:654px"></div>
<div class="cl" style="left:803px"></div>
<div id="sb"></div>
<div id="tf"><div class="c l rf" style="left:0;width:69px;padding-left:2.5px"><span>Somme</span></div>
<div class="c n" style="left:523px;width:132px">20 909 600,00 Da</div>
<div class="c n" style="left:804px;width:166px;padding-right:5.5px">39 527 400,00 Da</div>
<div class="fl" style="left:654px"></div>
<div class="fl" style="left:803px"></div>
<div class="fl" style="left:971px"></div>
</div>
</div>
</body>
</html>
